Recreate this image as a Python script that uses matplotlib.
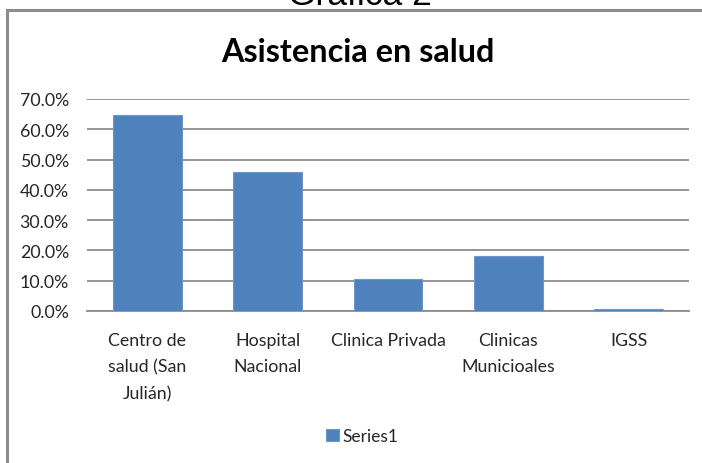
import matplotlib.pyplot as plt
from matplotlib.patches import Rectangle
from matplotlib.ticker import PercentFormatter
import numpy as np

# datos de la grafica
categorias = ['Centro de\nsalud (San\nJulián)', 'Hospital\nNacional', 'Clinica Privada',
              'Clinicas\nMunicioales', 'IGSS']
valores = [0.648, 0.46, 0.107, 0.18, 0.007]
serie = 'Series1'
titulo = 'Asistencia en salud'
encabezado = 'Gráfica 2'

azul = '#4F81BD'
gris = '#8C8C8C'
texto = '#262626'

fig = plt.figure(figsize=(7.02, 4.64), dpi=100)

# marco del grafico (se sale por la derecha y por abajo)
fig.patches.append(Rectangle((7 / 702, -0.1), 1.2, 1.1 - 11 / 464, transform=fig.transFigure,
                             fill=False, edgecolor=gris, linewidth=2.2))

fig.text(360 / 702, 1 - 5 / 464, encabezado, ha='center', va='baseline',
         fontsize=25.5, family='Liberation Sans', color='black')
fig.text(358 / 702, 1 - 53 / 464, titulo, ha='center', va='center',
         fontsize=23.3, fontweight='bold', family='Lato', color='black')

ax = fig.add_axes([87 / 702, 1 - 312 / 464, 602 / 702, 212 / 464])
x = np.arange(len(categorias))
ax.bar(x, valores, width=0.57, color=azul, edgecolor='#6D97C9', linewidth=0.8,
       label=serie, zorder=3)

ax.set_xlim(-0.5, len(categorias) - 0.5)
ax.set_ylim(0, 0.7)
ax.set_yticks(np.arange(0, 0.71, 0.1))
ax.yaxis.set_major_formatter(PercentFormatter(1.0, decimals=1))
ax.grid(axis='y', color=gris, linewidth=1.3, zorder=0)
for s in ['top', 'right', 'left']:
    ax.spines[s].set_visible(False)
ax.spines['bottom'].set_color(gris)
ax.spines['bottom'].set_linewidth(1.3)
ax.tick_params(axis='y', length=0, pad=13, labelsize=12.8, labelcolor=texto)
ax.tick_params(axis='x', length=0, pad=15, labelsize=12.8, labelcolor=texto)
ax.set_xticks(x)
ax.set_xticklabels(categorias, linespacing=1.8, va='top')
for lab in ax.get_xticklabels() + ax.get_yticklabels():
    lab.set_family('Lato')

leg = fig.legend(loc='center', bbox_to_anchor=(362 / 702, 1 - 437 / 464), frameon=False,
                 prop={'family': 'Lato', 'size': 12.5}, handlelength=0.75, handleheight=0.75,
                 handletextpad=0.2)
for t in leg.get_texts():
    t.set_color(texto)

fig.savefig('out.png', dpi=100)
